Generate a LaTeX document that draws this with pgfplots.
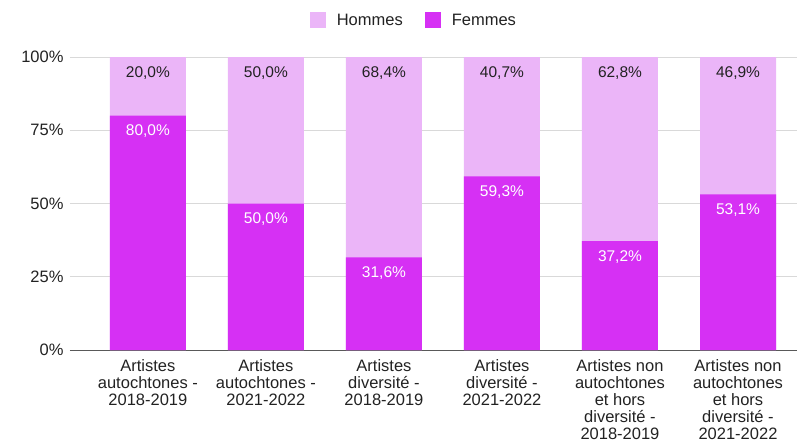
\documentclass[border=0pt]{standalone}
\usepackage{fontspec}
\setmainfont{Liberation Sans}
\usepackage{pgfplots}
\pgfplotsset{compat=1.18}
\definecolor{femmes}{HTML}{D630F4}
\definecolor{hommes}{HTML}{EBB5F8}
\definecolor{gridgray}{HTML}{D9D9D9}
\definecolor{textgray}{HTML}{222222}

\begin{document}
\begin{tikzpicture}
\useasboundingbox (-70pt,-95pt) rectangle (729pt,350pt);
\begin{axis}[
    scale only axis,
    width=727pt, height=293pt,
    ybar, bar shift=0pt,
    bar width=76pt,
    xmin=-0.66, xmax=5.5,
    ymin=0, ymax=100,
    xtick={0,1,2,3,4,5},
    xticklabels={
      {Artistes\\autochtones -\\2018-2019},
      {Artistes\\autochtones -\\2021-2022},
      {Artistes\\diversité -\\2018-2019},
      {Artistes\\diversité -\\2021-2022},
      {Artistes non\\autochtones\\et hors\\diversité -\\2018-2019},
      {Artistes non\\autochtones\\et hors\\diversité -\\2021-2022}},
    xticklabel style={align=center, anchor=north, inner sep=0pt, yshift=-9pt,
      font=\fontsize{16.5}{17}\selectfont, text=textgray},
    ytick={0,25,50,75,100},
    yticklabels={0\%,25\%,50\%,75\%,100\%},
    yticklabel style={font=\fontsize{16.5}{17}\selectfont, text=textgray, xshift=-3pt},
    major tick length=0pt,
    ymajorgrids, grid style={gridgray, line width=0.8pt},
    axis x line*=bottom, axis y line*=left,
    y axis line style={draw=none},
    x axis line style={draw=black!65, line width=1pt, -},
    point meta=explicit,
    nodes near coords={\pgfmathprintnumber[fixed,fixed zerofill,precision=1,use comma,assume math mode=true]{\pgfplotspointmeta}\%},
    every node near coord/.append style={anchor=north, yshift=-6pt,
      font=\fontsize{15.5}{17}\selectfont},
    legend columns=2,
    legend style={at={(0.473,1.126)}, anchor=center, draw=none,
      font=\fontsize{16.5}{17}\selectfont, text=textgray,
      /tikz/every even column/.append style={column sep=20pt}},
]
% Hommes (upper share): bar drawn to 100 %, Femmes overlaid from the base
\addplot[fill=hommes, draw=none,
  every node near coord/.append style={text=textgray},
  legend image code/.code={\fill[hommes] (0pt,-8pt) rectangle (16pt,8pt); \path (25pt,0pt);}]
  coordinates {(0,100)[20.0] (1,100)[50.0] (2,100)[68.4] (3,100)[40.7] (4,100)[62.8] (5,100)[46.9]};
\addlegendentry{Hommes}
\addplot[fill=femmes, draw=none,
  every node near coord/.append style={text=white},
  legend image code/.code={\fill[femmes] (0pt,-8pt) rectangle (16pt,8pt); \path (25pt,0pt);}]
  coordinates {(0,80.0)[80.0] (1,50.0)[50.0] (2,31.6)[31.6] (3,59.3)[59.3] (4,37.2)[37.2] (5,53.1)[53.1]};
\addlegendentry{Femmes}
\end{axis}
\end{tikzpicture}
\end{document}
